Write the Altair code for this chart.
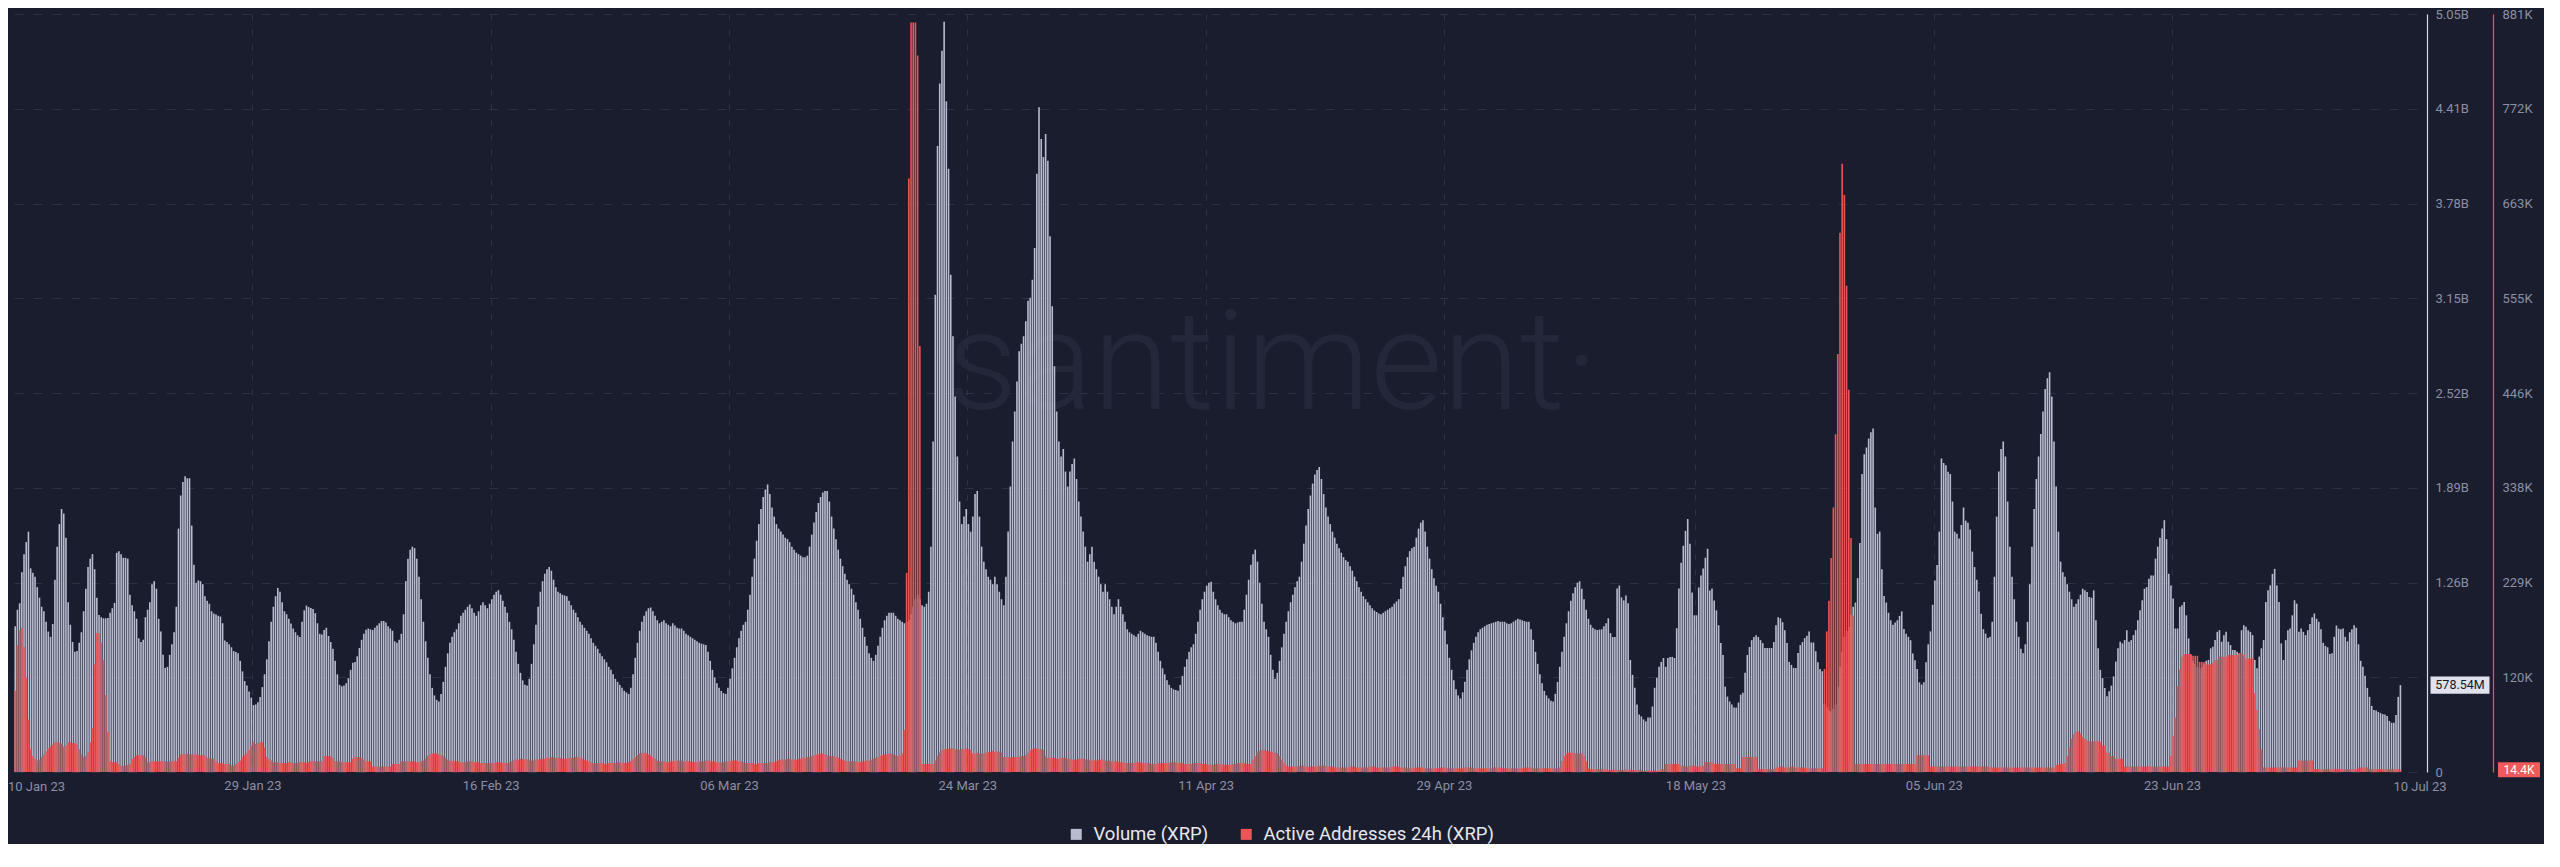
import altair as alt
import pandas as pd

# ---------------- data (4-hour bars, first bar centred 11 Jan 2023 02:00) ----------------
FIRST_BAR_CENTER = "2023-01-11 02:00"
BAR_FREQ = "4h"

# Volume (XRP), millions
vol_a = [
    970, 1080, 1123, 1330, 1450, 1530, 1600, 1355, 1327, 1300,
    1230, 1160, 1100, 1070, 1000, 935, 900, 985, 1280, 1500,
    1650, 1750, 1720, 1560, 1130, 980, 865, 800, 805, 860,
    930, 1070, 1220, 1365, 1420, 1450, 1350, 1160, 1045, 1030,
    1023, 1023, 1025, 1060, 1090, 1125, 1459, 1470, 1450, 1426,
    1426, 1420, 1180, 1110, 1070, 1020, 890, 865, 880, 1030,
    1080, 1130, 1250, 1270, 1220, 1020, 935, 780, 693, 700,
    780, 850, 930, 1100, 1620, 1840, 1930, 1968, 1955, 1955,
    1640, 1380, 1260, 1275, 1270, 1250, 1170, 1140, 1120, 1070,
    1055, 1048, 1040, 1035, 990, 875, 866, 850, 830, 805,
    799, 790, 740, 670, 605, 575, 535, 495, 445, 450,
    465, 500, 565, 650, 750, 870, 1000, 1100, 1170, 1225,
    1200, 1130, 1070, 1050, 1020, 988, 955, 930, 910, 898,
    1000, 1076, 1108, 1098, 1092, 1085, 1057, 990, 920, 915,
    945, 960, 905, 865, 820, 740, 650, 580, 570, 575,
    590, 625, 680, 727, 732, 770, 825, 880, 920, 946,
    955, 950, 945, 960, 975, 990, 1005, 1005, 995, 970,
    955, 940, 870, 860, 880, 920, 1050, 1270, 1420, 1480,
]
vol_b = [
    1500, 1490, 1420, 1300, 1150, 1000, 870, 760, 650, 560,
    510, 480, 470, 520, 600, 700, 790, 860, 900, 930,
    950, 990, 1040, 1060, 1080, 1100, 1115, 1090, 1060, 1040,
    1070, 1110, 1130, 1110, 1090, 1120, 1150, 1180, 1200, 1210,
    1180, 1140, 1100, 1060, 1000, 950, 880, 800, 720, 660,
    610, 580, 575, 620, 720, 850, 980, 1100, 1200, 1270,
    1320, 1350, 1365, 1340, 1280, 1230, 1200, 1190, 1180, 1175,
    1170, 1140, 1110, 1080, 1060, 1030, 1000, 980, 960, 940,
    920, 890, 860, 840, 820, 790, 770, 750, 730, 700,
    680, 650, 620, 600, 580, 560, 540, 530, 520, 560,
    650, 760, 860, 940, 1000, 1040, 1070, 1090, 1095, 1070,
    1040, 1010, 990, 1000, 1010, 990, 980, 970, 990, 975,
    960, 955, 955, 940, 920, 910, 900, 890, 880, 870,
    860, 855, 850, 845, 800, 740, 680, 630, 590, 560,
    540, 525, 520, 560, 620, 690, 760, 830, 890, 940,
    980, 1000, 1080, 1180, 1300, 1420, 1540, 1650, 1750, 1830,
    1880, 1913, 1850, 1760, 1700, 1650, 1620, 1600, 1580, 1560,
    1550, 1530, 1500, 1480, 1460, 1450, 1440, 1430, 1430, 1440,
    1500, 1580, 1660, 1730, 1790, 1830, 1860, 1870, 1870, 1800,
    1700, 1620, 1550, 1480, 1420, 1370, 1320, 1280, 1250, 1220,
    1180, 1130, 1080, 1020, 960, 900, 840, 790, 760, 740,
    780, 840, 900, 960, 1010, 1040, 1060, 1060, 1060, 1040,
    1020, 1010, 1000, 990, 1000, 1010, 1050, 1100, 1150, 1180,
    1150, 1110, 1100, 1120, 1200, 1500, 2200,
]
vol_c = [
    3177, 4167, 4583, 4801, 4993, 4464, 4015, 3309, 2900, 2500,
    2100, 1800, 1650, 1700, 1750, 1650, 1600, 1700, 1850, 1870,
    1700, 1500, 1400, 1350, 1300, 1280, 1250, 1300, 1250, 1200,
    1150, 1110, 1300, 1600, 1900, 2200, 2400, 2600, 2800, 2850,
    2900, 3000, 3137, 3157, 3276, 3487, 3982, 4425, 4213, 4094,
    4246, 4068, 3566, 3100, 2700, 2400, 2200, 2100, 2150, 2000,
    1900, 2000, 2050, 2086, 1950, 1800, 1700, 1600, 1500, 1400,
    1450, 1500, 1400, 1350, 1300, 1250, 1200, 1250, 1200, 1150,
    1100, 1050, 1100, 1150, 1100, 1050, 1000, 950, 930, 920,
    910, 900, 920, 940, 930, 920, 910, 905, 900, 900,
    860, 800, 740, 690, 650, 610, 580, 560, 550, 545,
    540, 580, 640, 700, 750, 800, 830, 850, 920, 1000,
    1080, 1150, 1200, 1240, 1260, 1267, 1200, 1150, 1110, 1080,
    1060, 1050, 1050, 1030, 1010, 1000, 990, 995, 1000, 1000,
    1080, 1180, 1280, 1380, 1450, 1480, 1400, 1260, 1120, 1000,
    950, 900, 780, 680, 620, 660, 740, 830, 920, 1000,
    1070, 1130, 1180, 1230, 1270, 1300, 1400, 1520, 1640, 1750,
    1840, 1920, 1980, 2010, 2030, 1950, 1850, 1760, 1700, 1650,
    1600, 1560, 1520, 1490, 1460, 1430, 1410, 1400, 1370, 1340,
    1300, 1270, 1230, 1200, 1170, 1150, 1130, 1110, 1090, 1075,
    1065, 1055, 1050, 1060, 1070, 1080, 1090, 1100, 1120, 1135,
    1150, 1220, 1300, 1370, 1430, 1470, 1490, 1500, 1560, 1620,
    1660, 1676, 1600, 1500, 1420, 1350, 1290, 1240, 1200, 1120,
    1030, 940, 850, 760, 680, 610, 550, 510, 490, 530,
    600, 680, 750, 810, 860, 900, 930, 950, 960, 970,
    980, 985, 990, 995, 1000, 1005, 1000, 1000, 1000, 990,
    985, 990, 1000, 1010, 1020, 1015, 1010, 1005, 1000, 1000,
    950, 880, 800, 720, 650, 590, 540, 510, 490, 475,
    470, 520, 600, 700, 800, 900, 990, 1070, 1140, 1190,
    1230, 1260, 1270, 1220, 1150, 1080, 1020, 980, 960, 950,
    945, 948, 950, 970, 990, 1023,
]
vol_d = [
    924, 898, 898, 1222, 1241, 1162, 1142, 1175, 1123, 746,
    647, 561, 449, 383, 370, 350, 337, 363, 363, 436,
    561, 627, 700, 733, 759, 700, 759, 766, 766, 759,
    957, 1222, 1393, 1506, 1605, 1684, 1519, 1195, 1043, 1043,
    1228, 1308, 1354, 1426, 1486, 1208, 1222, 1142, 1076, 977,
    858, 779, 568, 502, 469, 449, 429, 429, 462, 515,
    528, 660, 779, 832, 878, 898, 911, 898, 878, 858,
    825, 825, 825, 825, 865, 977, 1030, 1023, 997, 944,
    858, 733, 713, 693, 693, 792, 845, 865, 891, 907,
    936, 862, 862, 804, 730, 685, 671, 450, 430, 410,
    405, 420, 450, 568, 700, 800, 900, 940, 965, 1050,
    1100, 1128, 1290, 1525, 1983, 2115, 2160, 2219, 2262, 2286,
    1761, 1585, 1600, 1349, 1172, 1128, 1060, 1010, 980, 995,
    1010, 1039, 1069, 951, 921, 900, 877, 789, 744, 685,
    597, 582, 597, 730, 850, 936, 1113, 1275, 1378, 1600,
    2086, 2056, 2042, 1998, 1983, 1800, 1600, 1585, 1555, 1644,
    1761, 1673, 1659, 1614, 1467, 1364, 1280, 1202, 1054, 951,
    921, 892,
]
vol_e = [
    900, 1000, 1300, 1700, 2000, 2150, 2200, 2100, 1800, 1500,
    1300, 1150, 1000, 900, 820, 790, 850, 1000, 1250, 1500,
    1750, 1950, 2100, 2250, 2400, 2550, 2620, 2660, 2500, 2200,
    1900, 1600, 1400, 1330, 1300, 1250, 1200, 1150, 1100, 1120,
    1150, 1180, 1220, 1210, 1198,
    1165, 1160, 1209, 1010, 823, 680, 625, 559, 504, 537,
    575, 636, 735, 823, 867, 856, 878, 944, 867, 878,
    911, 944, 1010, 1076, 1143, 1220, 1231, 1286, 1308, 1308,
    1420, 1500, 1560, 1620, 1676, 1550, 1319, 1242, 1154, 955,
    955, 1099, 1110, 1132, 1043, 889, 779, 740, 720, 700,
    690, 700, 720, 740, 746, 823, 834, 878, 933, 944,
    867, 911, 933, 867, 845, 812, 812, 801, 790, 944,
    977, 966, 944, 933, 911, 746, 691, 768, 823, 878,
    1132, 1209, 1242, 1319, 1352, 1242, 1132, 856, 746, 878,
    944, 955, 1043, 1143, 1121, 933, 955, 933, 911,
    944, 985, 1030, 1055, 1020, 1000, 950, 860, 840, 830,
    785, 790, 900, 975, 955, 950, 955, 900, 870, 930,
    950, 977, 960, 850, 740, 700, 640, 560, 500, 440,
    412, 410, 400, 392, 385, 383, 372, 340, 328, 328,
    380, 500, 578.54,
]

# Active Addresses 24h (XRP), thousands
aa_a = [
    105, 157, 174, 177, 155, 120, 72, 38, 30, 27,
    25, 26, 29, 32, 36, 39, 41, 43, 46, 46,
    45, 44, 41, 42, 46, 46, 45, 45, 44, 38,
    32, 29, 30, 35, 46, 62, 135, 171, 171, 160,
    140, 100, 58, 24, 23, 23, 23, 21, 19, 19,
    19, 20, 21, 27, 29, 31, 31, 31, 31, 29,
    23, 23, 24, 24, 24, 24, 24, 24, 24, 24,
    24, 24, 24, 24, 28, 32, 32, 32, 33, 32,
    32, 32, 32, 31, 31, 31, 31, 28, 28, 27,
    27, 24, 22, 22, 22, 21, 21, 21, 19, 19,
    21, 23, 25, 29, 31, 33, 37, 42, 46, 44,
    45, 46, 46, 40, 29, 27, 25, 23, 23, 23,
    22, 22, 22, 22, 23, 23, 22, 22, 22, 23,
    23, 23, 22, 23, 24, 24, 24, 24, 24, 24,
    30, 30, 30, 30, 28, 24, 24, 24, 23, 23,
    23, 23, 23, 27, 29, 29, 29, 28, 26, 24,
    24, 24, 18, 18, 18, 18, 18, 18, 18, 18,
    18, 21, 21, 21, 21, 24, 24, 24, 24, 24,
]
aa_b = [
    24, 24, 23, 23, 24, 25, 27, 30, 32, 33, 33,
    33, 32, 31, 30, 28, 26, 25, 24, 24, 24,
    24, 23, 23, 23, 24, 24, 24, 23, 23, 23, 22, 22, 22, 22, 22,
    22, 22, 23, 23, 23, 22, 22, 22, 23, 24,
    25, 26, 26, 27, 27, 26, 26, 26, 25, 25, 26, 26, 27, 27, 27,
    28, 28, 29, 29, 28, 28, 28, 27, 27, 27, 28, 28, 28, 29, 29, 28, 27, 26, 25, 24,
    23, 22, 22, 22, 22, 22, 21, 21, 22, 22, 22, 22, 23, 23, 22, 22, 22, 23, 24, 26,
    29, 31, 33, 34, 34, 33, 32, 31, 29, 27,
    25, 24, 24, 24, 23, 23, 24, 24, 24, 25,
    25, 25, 24, 24, 24, 24, 23, 23, 23, 24,
    24, 24, 25, 25, 24, 24, 24, 23, 23, 23,
    23, 24, 24, 24, 25, 25, 25, 24, 24, 23,
    22, 22, 22, 22, 21, 21, 22, 22, 22, 22, 22, 23, 23, 23, 24,
    25, 26, 26, 26, 27, 27, 26, 26, 26, 27, 27, 28, 28, 29, 29,
    30, 31, 32, 32, 33, 33, 32, 31, 30, 30, 30, 29, 28, 27, 26,
    25, 24, 24, 24, 24, 24, 23, 23, 24, 24, 25, 25, 26, 27, 28,
    29, 30, 31, 32, 32, 33, 33, 32, 31, 30, 31, 33,
    60, 240, 692, 871, 871, 871, 833, 500, 21, 21, 21, 21, 21, 21,
]
aa_c = [
    25, 30, 34, 37, 38,
    38, 38, 39, 39, 38, 38, 37, 38, 38, 39, 38, 37,
    33, 33, 34, 33, 33, 33, 34,
    35, 35, 36, 35, 35, 35, 34,
    29, 29, 29, 28, 29, 29, 29, 29, 30, 30, 31,
    34, 37, 38, 39, 39, 38, 38, 37,
    30, 28, 28, 28, 28, 27, 27, 28, 28, 28, 27, 27,
    26, 26, 26, 27, 27, 27, 26, 26, 26, 25, 25, 25, 26, 26, 26, 25, 25, 25, 24, 24, 24, 23,
    23, 23, 22, 22, 22, 22, 22, 23, 23, 23,
    22, 22, 22, 22, 21, 21, 21, 22, 22, 22,
    22, 22, 22, 23, 23, 23, 22, 22, 22, 21,
    21, 21, 21, 22, 22, 22, 22, 21, 21, 21,
    20, 20, 20, 21, 21, 21, 20, 20, 20, 20, 20, 21, 21, 22, 22, 22, 22, 21, 21, 21,
    26, 30, 34, 36, 37, 37, 36, 36, 35, 35, 34, 33, 30, 26, 22,
    19, 18, 18, 18, 18, 18, 19, 19, 19, 18,
    18, 18, 18, 18, 18, 19, 19, 19, 19, 18,
    18, 18, 17, 17, 17,
    17, 17, 17, 17, 18, 18, 18, 17, 17, 17,
    17, 17, 17, 18, 18, 18, 17, 17, 17, 17,
    17, 17, 17, 18, 18, 18, 18, 17, 17, 17,
    16, 16, 16, 17, 17, 17, 17, 17, 16, 16,
    16, 16, 16, 16, 16, 17, 17, 17, 16, 16,
    16, 16, 16, 16, 16, 16, 17, 17, 17, 17,
    16, 16, 16, 16, 16, 16, 16, 16, 16, 17,
    17, 17, 17, 16, 16, 16, 16, 16, 16, 16,
    16, 16, 16, 17, 17, 17, 17, 16, 16, 16,
    16, 16, 16, 16, 16, 16, 16, 16, 16, 17,
    24, 30, 33, 34, 34, 34, 33, 33, 33, 33, 30, 24,
    16, 15, 15, 15, 15, 15, 15, 15, 15, 14,
]
aa_d = [
    14, 14, 15, 14, 14, 14, 14, 15, 14, 14, 14, 14, 14, 14, 14,
    13, 13, 14, 13, 13, 14, 13, 13,
    15, 15,
    21, 21, 21, 21, 21, 21, 21,
    19, 19, 18, 18, 19, 19, 19, 18, 18, 19, 19,
    23, 23, 23, 23,
    21, 21, 21, 21, 21, 21, 21, 21, 21, 21,
    16, 16, 16,
    29, 29, 29, 29, 29, 29, 29,
    15, 15, 15, 15, 15, 15, 15, 15,
    17, 17, 18, 18, 17, 17, 17, 18, 18, 17, 17, 17, 17, 17,
    16, 16, 16, 16, 16, 16, 16, 16,
    130, 173, 208, 257, 315, 399, 491, 630, 709, 673, 569, 450, 280, 191, 21,
    21, 21, 21, 21, 21, 21, 21, 21, 21, 21,
    21, 21, 21, 21, 21, 21, 21, 21, 21, 21,
    21, 21, 21, 21, 21, 21, 21,
    31, 31, 31, 31, 31, 31,
    18, 18, 18, 18, 18, 18, 18, 18, 18, 18,
    18, 18, 18, 18, 18, 18, 18, 18, 18, 18,
    18, 18, 18, 18, 18, 18, 18,
]
aa_e = [
    17, 17, 17, 17, 17, 17, 17, 17, 17, 17,
    17, 17, 17, 17, 17, 17, 17, 17, 17, 17,
    17, 17, 17, 17, 17, 17, 17, 17, 17, 17,
    20, 20, 21, 21, 22,
    30, 40, 50, 55, 58, 58, 56, 52, 50, 48,
    47, 47, 47, 47, 47, 46,
    42, 42, 34, 34, 30, 30, 27, 27, 27, 27,
    18, 18, 18, 18, 18, 18, 18, 18, 18, 18,
    18, 18, 18, 18, 18, 18, 18, 18, 18, 18, 18,
    30, 53, 74, 110, 129, 144,
    147, 147, 147, 147, 145, 145, 145, 138, 138, 138,
    135, 135, 135, 137, 140, 140, 144, 144, 144, 144,
    146, 146, 146, 146, 146, 148, 148, 146, 142, 142, 142, 142,
    102, 83, 61, 38,
    17, 17, 17, 17, 17, 17, 17, 17, 17, 17, 17, 17, 17, 17, 17, 17,
    25, 25, 25, 25, 25, 25, 25,
    15, 15, 15, 15, 15, 15, 15, 15, 15, 15,
    15, 15, 15, 15, 15, 15, 15, 15, 15, 15,
    17, 17, 17, 17, 17,
    15, 15, 15, 15, 15, 15, 15, 15, 15, 15, 15, 15, 15, 15,
    14.4,
]

SERIES = ["Volume (XRP)", "Active Addresses 24h (XRP)"]
GRID_DATES = [(1, 29), (2, 16), (3, 6), (3, 24), (4, 11), (4, 29), (5, 18), (6, 5), (6, 23)]
END_LABELS = ["10 Jan 23", "10 Jul 23"]
WATERMARK = "santiment·"

VOL_MAX = 5.0453e9
AA_MIN, AA_MAX = 11800, 880600

# ---------------- table ----------------
volume_m = vol_a + vol_b + vol_c + vol_d + vol_e
active_k = aa_a + aa_b + aa_c + aa_d + aa_e
n = min(len(volume_m), len(active_k))
volume_m = volume_m[:n]
active_k = active_k[:n]

df = pd.DataFrame({
    "t": pd.date_range(FIRST_BAR_CENTER, periods=n, freq=BAR_FREQ),
    "vol": [v * 1e6 for v in volume_m],
    "aa": [a * 1e3 for a in active_k],
})
last = df.tail(1).copy()
last["vol_label"] = f"{volume_m[-1]:.2f}M"
last["aa_label"] = f"{active_k[-1]:.1f}K"

# ---------------- style ----------------
BG = "#1a1d2d"
GRID = "#2d3144"
LABEL = "#8b8fa6"
VOL_COLOR = "#b9bcd0"
AA_COLOR = "#ec5656"
FONT = "Roboto"
W, H = 2409, 758

x_scale = alt.Scale(domain=[alt.DateTime(year=2023, month=1, date=10, hours=22),
                            alt.DateTime(year=2023, month=7, date=11, hours=3)])
x_axis = alt.Axis(values=[alt.DateTime(year=2023, month=m, date=d) for m, d in GRID_DATES],
                  format="%d %b %y", formatType="time", title=None,
                  grid=True, gridColor=GRID, gridDash=[6, 9], gridWidth=1,
                  domain=False, ticks=False, tickSize=0, labelFlush=False, labelOverlap=False,
                  labelColor=LABEL, labelFont=FONT, labelFontSize=13, labelPadding=7)

vol_ticks = [VOL_MAX * k / 8 for k in range(9)]
vol_scale = alt.Scale(domain=[0, VOL_MAX], nice=False, zero=True)
# the first gridline's label sits under the current-value box, so it is left blank
vol_axis = alt.Axis(orient="right", offset=10, values=vol_ticks,
                    labelExpr=f"datum.value == 0 ? '0' : (datum.value < {VOL_MAX / 4} ? '' : format(datum.value / 1e9, '.2f') + 'B')",
                    title=None, grid=True, gridColor=GRID, gridDash=[9, 10], gridWidth=1,
                    domainColor="#d8dae6", domainWidth=1.2, ticks=False, tickSize=0,
                    labelColor=LABEL, labelFont=FONT, labelFontSize=13, labelPadding=8)

aa_scale = alt.Scale(domain=[AA_MIN, AA_MAX], nice=False, zero=False)
aa_axis = alt.Axis(orient="right", offset=76,
                   values=[AA_MIN + (AA_MAX - AA_MIN) * k / 8 for k in range(1, 9)],
                   labelExpr="format(datum.value / 1000, '.0f') + 'K'",
                   title=None, grid=False, domainColor=AA_COLOR, domainWidth=1.2,
                   ticks=False, tickSize=0,
                   labelColor=LABEL, labelFont=FONT, labelFontSize=13, labelPadding=9)

color_scale = alt.Scale(domain=SERIES, range=[VOL_COLOR, AA_COLOR])
legend = alt.Legend(orient="none", legendX=1059, legendY=811, direction="horizontal",
                    title=None, symbolType="square", symbolSize=121, symbolStrokeWidth=0,
                    symbolOpacity=1, labelColor="#e6e7ef", labelFont=FONT, labelFontSize=18.5,
                    labelLimit=600, labelOffset=8, columnPadding=28)

x_enc = alt.X("t:T", scale=x_scale, axis=x_axis)
vol_y = alt.Y("vol:Q", scale=vol_scale, axis=vol_axis)
aa_y = alt.Y("aa:Q", scale=aa_scale, axis=aa_axis)

vol_bars = alt.Chart(df).transform_calculate(series=f"'{SERIES[0]}'").mark_bar(width=1.6).encode(
    x=x_enc, y=vol_y,
    color=alt.Color("series:N", scale=color_scale, legend=legend),
)
aa_bars = alt.Chart(df).transform_calculate(series=f"'{SERIES[1]}'").mark_bar(width=1.6).encode(
    x=x_enc, y=aa_y, y2=alt.datum(AA_MIN),
    color=alt.Color("series:N", scale=color_scale, legend=legend),
)

BOX_VOL = "M-1,-0.29L1,-0.29L1,0.29L-1,0.29Z"
BOX_AA = "M-1,-0.36L1,-0.36L1,0.36L-1,0.36Z"

vol_box = alt.Chart(last).mark_point(shape=BOX_VOL, size=3481, filled=True, opacity=1,
                                     color="#dfe1ec", strokeWidth=0).encode(
    x=alt.value(W + 43), y=vol_y)
vol_txt = alt.Chart(last).mark_text(font=FONT, fontSize=12.5, color="#151827").encode(
    x=alt.value(W + 43), y=vol_y, text="vol_label:N")
aa_box = alt.Chart(last).mark_point(shape=BOX_AA, size=1764, filled=True, opacity=1,
                                    color="#f05a5a", strokeWidth=0).encode(
    x=alt.value(W + 102), y=aa_y)
aa_txt = alt.Chart(last).mark_text(font=FONT, fontSize=12, color="#ffffff").encode(
    x=alt.value(W + 102), y=aa_y, text="aa_label:N")

watermark = alt.Chart(pd.DataFrame({"w": [WATERMARK]})).mark_text(
    font=FONT, fontSize=140, fontWeight=300, color="#23273a", align="center", baseline="middle"
).encode(x=alt.value(1265), y=alt.value(353), text="w:N")

start_lbl = alt.Chart(pd.DataFrame({"s": [END_LABELS[0]]})).mark_text(
    font=FONT, fontSize=13, color=LABEL, align="left", baseline="middle"
).encode(x=alt.value(0), y=alt.value(H + 14.5), text="s:N")
end_lbl = alt.Chart(pd.DataFrame({"s": [END_LABELS[1]]})).mark_text(
    font=FONT, fontSize=13, color=LABEL, align="center", baseline="middle"
).encode(x=alt.value(W + 3), y=alt.value(H + 14.5), text="s:N")

vol_layer = alt.layer(vol_bars, vol_box, vol_txt)
aa_layer = alt.layer(aa_bars, aa_box, aa_txt)

chart = alt.layer(watermark, vol_layer, aa_layer, start_lbl, end_lbl).resolve_scale(
    y="independent"
).properties(
    width=W, height=H, background=BG,
    padding={"left": 0, "top": 0, "right": 4, "bottom": 0},
).configure_view(stroke=None)

chart.save("out.html", embed_options={"renderer": "svg", "actions": False})
